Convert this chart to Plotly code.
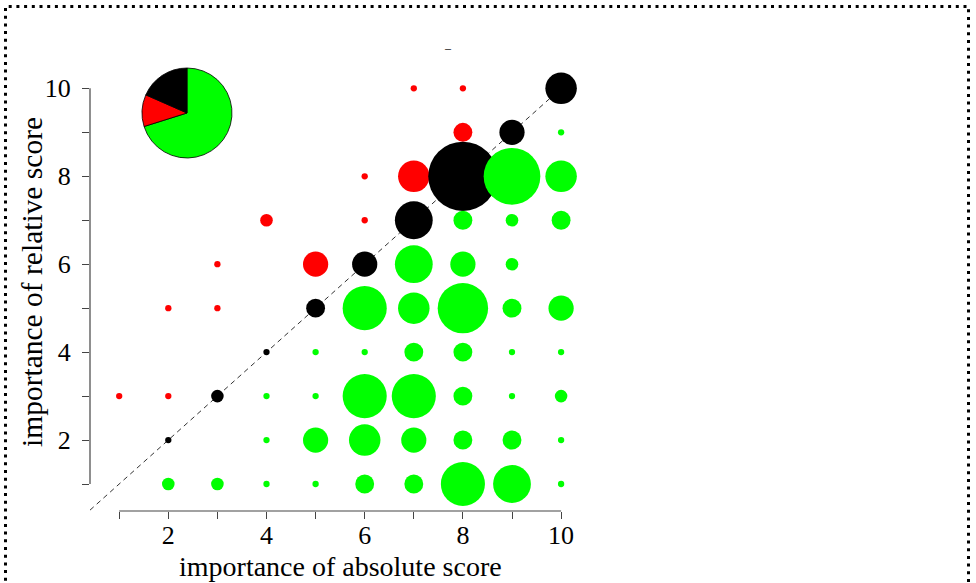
import plotly.graph_objects as go

# Counts of respondents for each (absolute, relative) importance pair
abs_score = [7, 8, 8, 6, 7, 4, 6, 3, 5, 2, 3, 1, 2,
             10, 9, 8, 7, 6, 5, 4, 3, 2,
             10, 9, 10, 8, 9, 10, 7, 8, 9,
             6, 7, 8, 9, 10,
             5, 6, 7, 8, 9, 10,
             4, 5, 6, 7, 8, 9, 10,
             4, 5, 6, 7, 8, 9, 10,
             2, 3, 4, 5, 6, 7, 8, 9, 10]
rel_score = [10, 10, 9, 8, 8, 7, 7, 6, 6, 5, 5, 3, 3,
             10, 9, 8, 7, 6, 5, 4, 3, 2,
             9, 8, 8, 7, 7, 7, 6, 6, 6,
             5, 5, 5, 5, 5,
             4, 4, 4, 4, 4, 4,
             3, 3, 3, 3, 3, 3, 3,
             2, 2, 2, 2, 2, 2, 2,
             1, 1, 1, 1, 1, 1, 1, 1, 1]
counts = [1, 1, 3, 1, 5, 2, 1, 1, 4, 1, 1, 1, 1,
          5, 4, 11, 6, 4, 3, 1, 2, 1,
          1, 9, 5, 3, 2, 3, 6, 4, 2,
          7, 5, 8, 3, 4,
          1, 1, 3, 3, 1, 1,
          1, 1, 7, 7, 3, 1, 2,
          1, 4, 5, 4, 3, 3, 1,
          2, 2, 1, 1, 3, 3, 7, 6, 1]

tick_values = list(range(1, 11))
tick_labels = [str(v) if v % 2 == 0 else "" for v in tick_values]

group_names = ["absolute more important", "relative more important", "equal"]
group_colors = {"absolute more important": "#00ff00",
                "relative more important": "#ff0000",
                "equal": "#000000"}

# figure geometry (pixels)
W, H = 976, 583
L, T, B = 90, 62, 72
PW = 500
PH = H - T - B
R = W - L - PW
PX_PER_X = 49.1
PX_PER_Y = 43.96
SIZE_PER_COUNT = 6.3

x_lo = 1 - 29.2 / PX_PER_X
x_hi = x_lo + PW / PX_PER_X
y_lo = 1 - 27.0 / PX_PER_Y
y_hi = y_lo + PH / PX_PER_Y


def paper_x(px):
    return (px - L) / PW


def paper_y(py):
    return (H - B - py) / PH


def group_of(a, r):
    if a > r:
        return "absolute more important"
    if r > a:
        return "relative more important"
    return "equal"


groups = {g: {"x": [], "y": [], "n": []} for g in group_names}
for a, r, n in zip(abs_score, rel_score, counts):
    g = groups[group_of(a, r)]
    g["x"].append(a)
    g["y"].append(r)
    g["n"].append(n)

fig = go.Figure()

# identity line
fig.add_trace(go.Scatter(
    x=[x_lo, 10], y=[x_lo, 10], mode="lines",
    line=dict(color="#333333", width=1, dash="5px,4px"),
    hoverinfo="skip", showlegend=False))

for g in ["relative more important", "equal", "absolute more important"]:
    d = groups[g]
    fig.add_trace(go.Scatter(
        x=d["x"], y=d["y"], mode="markers", name=g,
        marker=dict(size=[SIZE_PER_COUNT * n for n in d["n"]],
                    sizemode="diameter", color=group_colors[g],
                    line=dict(width=0), opacity=1),
        showlegend=False))

# share of respondents in each group
pie_values = [sum(groups[g]["n"]) for g in group_names]
cx, cy, rad = 187, 113, 45
fig.add_trace(go.Pie(
    values=pie_values, labels=group_names,
    marker=dict(colors=[group_colors[g] for g in group_names],
                line=dict(color="#000000", width=0.8)),
    sort=False, direction="clockwise", rotation=0,
    textinfo="none", showlegend=False,
    domain=dict(x=[paper_x(cx - rad), paper_x(cx + rad)],
                y=[paper_y(cy + rad), paper_y(cy - rad)])))

serif = "Liberation Serif, Times New Roman, serif"
axis_common = dict(showgrid=False, zeroline=False, showline=False,
                   ticks="outside", ticklen=7, tickwidth=1, tickcolor="#444444",
                   tickvals=tick_values, ticktext=tick_labels,
                   tickfont=dict(family=serif, size=26, color="#000000"))

fig.update_layout(
    width=W, height=H,
    margin=dict(l=L, r=R, t=T, b=B, autoexpand=False),
    paper_bgcolor="white", plot_bgcolor="white",
    xaxis=dict(range=[x_lo, x_hi], ticklabelstandoff=-6, **axis_common),
    yaxis=dict(range=[y_lo, y_hi], ticklabelstandoff=6, **axis_common),
    font=dict(family=serif, color="#000000"),
    shapes=[
        dict(type="line", xref="x", yref="paper", x0=1, x1=10, y0=0, y1=0,
             line=dict(color="#444444", width=1.2)),
        dict(type="line", xref="paper", yref="y", x0=0, x1=0, y0=1, y1=10,
             line=dict(color="#444444", width=1.2)),
        dict(type="rect", xref="paper", yref="paper",
             x0=paper_x(5.5), x1=paper_x(968.5),
             y0=paper_y(620), y1=paper_y(6.5),
             line=dict(color="#000000", width=3, dash="3px,4.7px"),
             layer="above"),
    ],
    annotations=[
        dict(text="importance of absolute score", xref="paper", yref="paper",
             x=paper_x(340), y=paper_y(566), showarrow=False,
             xanchor="center", yanchor="middle",
             font=dict(family=serif, size=28, color="#000000")),
        dict(text="importance of relative score", xref="paper", yref="paper",
             x=paper_x(32), y=paper_y(282), showarrow=False, textangle=-90,
             xanchor="center", yanchor="middle",
             font=dict(family=serif, size=29.5, color="#000000")),
        dict(text="–", xref="paper", yref="paper",
             x=paper_x(448), y=paper_y(48), showarrow=False,
             xanchor="center", yanchor="middle",
             font=dict(family=serif, size=12, color="#000000")),
    ],
)

fig.write_html("out.html")
